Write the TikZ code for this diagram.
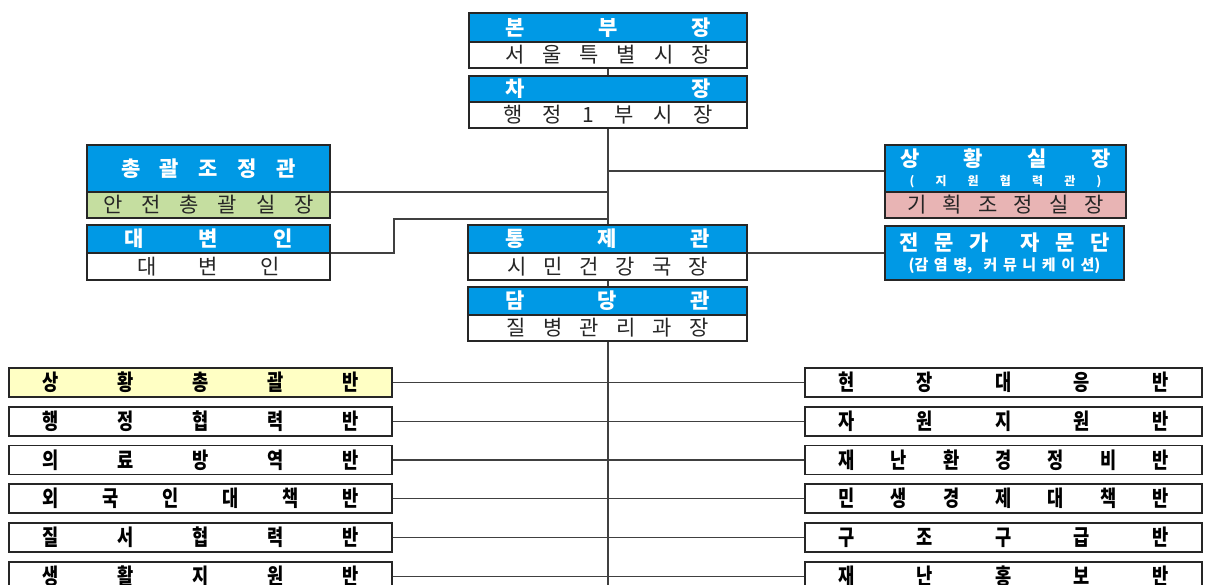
\documentclass[tikz,border=0pt]{standalone}
\usepackage{fontspec}
\newfontfamily\kr{Noto Sans CJK KR}
\newfontfamily\krn[FakeStretch=0.8]{Noto Sans CJK KR}
\definecolor{hblue}{RGB}{0,153,229}
\definecolor{hgreen}{RGB}{197,222,160}
\definecolor{hpink}{RGB}{232,180,180}
\definecolor{hyellow}{RGB}{255,255,196}
\newcommand\spr[2]{\makebox[#1pt]{#2}}
\pgfdeclarelayer{bg}
\pgfsetlayers{bg,main}
\begin{document}
\begin{tikzpicture}[x=1pt,y=-1pt,
 box/.style={draw=black!85,line width=1.8pt,inner sep=0pt,outer sep=0pt,fill=white},
 hdr/.style={box,fill=hblue,text=white,font=\kr\bfseries\fontsize{21}{21}\selectfont},
 bod/.style={box,text=black!85,font=\kr\fontsize{21}{21}\selectfont},
 unit/.style={box,minimum height=29,font=\krn\bfseries\fontsize{22}{22}\selectfont},
 lunit/.style={unit,minimum width=383},
 runit/.style={unit,minimum width=397},
 conn/.style={draw=black!75,line width=1.2pt}]
\path[use as bounding box,clip] (0,0) rectangle (1207,584);
\begin{pgfonlayer}{bg}
\fill[white] (0,0) rectangle (1207,584);
\end{pgfonlayer}
% top column
\node[hdr,minimum width=278,minimum height=29] (bbh) at (608,27.5) {\spr{205}{본\hfill 부\hfill 장}};
\node[bod,minimum width=278,minimum height=26] (bbb) at (608,55) {\spr{206}{서\hfill 울\hfill 특\hfill 별\hfill 시\hfill 장}};
\node[hdr,minimum width=278,minimum height=26] (cjh) at (608,89) {\spr{205}{차\hfill 장}};
\node[bod,minimum width=278,minimum height=26] (cjb) at (608,115) {\spr{209}{행\hfill 정\hfill 1\hfill 부\hfill 시\hfill 장}};
\node[hdr,minimum width=279,minimum height=28] (tjh) at (607.5,239) {\spr{205}{통\hfill 제\hfill 관}};
\node[bod,minimum width=279,minimum height=27] (tjb) at (607.5,266.5) {\spr{200}{시\hfill 민\hfill 건\hfill 강\hfill 국\hfill 장}};
\node[hdr,minimum width=279,minimum height=28] (ddh) at (607.5,301) {\spr{205}{담\hfill 당\hfill 관}};
\node[bod,minimum width=279,minimum height=26] (ddb) at (607.5,328) {\spr{202}{질\hfill 병\hfill 관\hfill 리\hfill 과\hfill 장}};
% left side
\node[hdr,minimum width=243,minimum height=47] (zgh) at (208.5,168.5) {\spr{175}{총\hfill 괄\hfill 조\hfill 정\hfill 관}};
\node[bod,fill=hgreen,minimum width=243,minimum height=26] (zgb) at (208.5,205) {\spr{210}{안\hfill 전\hfill 총\hfill 괄\hfill 실\hfill 장}};
\node[hdr,minimum width=243,minimum height=28] (dbh) at (208.5,239) {\spr{169}{대\hfill 변\hfill 인}};
\node[bod,minimum width=243,minimum height=27] (dbb) at (208.5,266.5) {\spr{142}{대\hfill 변\hfill 인}};
% right side
\node[hdr,align=center,minimum width=241,minimum height=47] (shh) at (1005.5,168.5)
  {\spr{211}{상\hfill 황\hfill 실\hfill 장}\\[-2pt]{\fontsize{12}{12}\selectfont\spr{192}{(\hfill 지\hfill 원\hfill 협\hfill 력\hfill 관\hfill )}}};
\node[bod,fill=hpink,minimum width=241,minimum height=26] (shb) at (1005.5,205) {\spr{197}{기\hfill 획\hfill 조\hfill 정\hfill 실\hfill 장}};
\node[hdr,align=center,minimum width=239,minimum height=54] (jm) at (1004.5,253)
  {\spr{211}{전\hfill 문\hfill 가\hfill\hfill 자\hfill 문\hfill 단}\\[-1pt]{\fontsize{15}{15}\selectfont\spr{192}{(감\hfill 염\hfill 병,\hfill\hfill 커\hfill 뮤\hfill 니\hfill 케\hfill 이\hfill 션)}}};
% bottom units
\node[lunit,fill=hyellow] (L1) at (200.5,382.5) {\spr{316}{상\hfill 황\hfill 총\hfill 괄\hfill 반}};
\node[lunit] (L2) at (200.5,421.5) {\spr{316}{행\hfill 정\hfill 협\hfill 력\hfill 반}};
\node[lunit] (L3) at (200.5,460) {\spr{316}{의\hfill 료\hfill 방\hfill 역\hfill 반}};
\node[lunit] (L4) at (200.5,498.5) {\spr{316}{외\hfill 국\hfill 인\hfill 대\hfill 책\hfill 반}};
\node[lunit] (L5) at (200.5,537.5) {\spr{316}{질\hfill 서\hfill 협\hfill 력\hfill 반}};
\node[lunit] (L6) at (200.5,576.5) {\spr{316}{생\hfill 활\hfill 지\hfill 원\hfill 반}};
\node[runit] (R1) at (1003.5,382.5) {\spr{330}{현\hfill 장\hfill 대\hfill 응\hfill 반}};
\node[runit] (R2) at (1003.5,421.5) {\spr{330}{자\hfill 원\hfill 지\hfill 원\hfill 반}};
\node[runit] (R3) at (1003.5,460) {\spr{330}{재\hfill 난\hfill 환\hfill 경\hfill 정\hfill 비\hfill 반}};
\node[runit] (R4) at (1003.5,498.5) {\spr{330}{민\hfill 생\hfill 경\hfill 제\hfill 대\hfill 책\hfill 반}};
\node[runit] (R5) at (1003.5,537.5) {\spr{330}{구\hfill 조\hfill 구\hfill 급\hfill 반}};
\node[runit] (R6) at (1003.5,576.5) {\spr{330}{재\hfill 난\hfill 홍\hfill 보\hfill 반}};
% connectors
\coordinate (tbot) at (608,600);
\coordinate (dbk) at (394,219);
\begin{pgfonlayer}{bg}
\draw[conn] (bbb.south) -- (cjh.north);
\draw[conn] (cjb.south) -- (tbot);
\draw[conn] (zgh.south east) -- (zgh.south east -| cjb.south);
\draw[conn] (dbh.south east) -| (dbk) -- (dbk -| cjb.south);
\draw[conn] ([yshift=-2.5pt]shh.west) -- ([yshift=-2.5pt]shh.west -| cjb.south);
\draw[conn] (tjb.north east) -- (jm.west);
\foreach \i in {1,...,6}{
  \draw[conn] (L\i.east) -- (L\i.east -| cjb.south);
  \draw[conn] (R\i.west) -- (R\i.west -| cjb.south);
}
\end{pgfonlayer}
\end{tikzpicture}
\end{document}
